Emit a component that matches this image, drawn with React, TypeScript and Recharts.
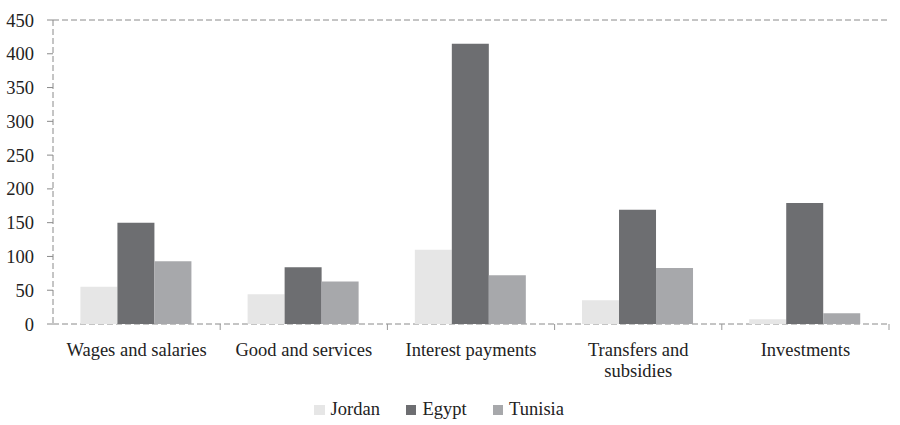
import React from "react";
import { BarChart, Bar, XAxis, YAxis, CartesianGrid, Legend } from "recharts";

const categories = ["Wages and salaries", "Good and services", "Interest payments", "Transfers and subsidies", "Investments"];
const jordan = [55, 44, 110, 35, 7];
const egypt = [150, 84, 415, 169, 179];
const tunisia = [93, 63, 72, 83, 16];
const yTicks = [0, 50, 100, 150, 200, 250, 300, 350, 400, 450];

const data = categories.map((c, i) => ({ name: c, Jordan: jordan[i], Egypt: egypt[i], Tunisia: tunisia[i] }));

const FONT = "Liberation Serif";
const FS = 18.5;
const COLORS: Record<string, string> = { Jordan: "#e6e6e6", Egypt: "#6d6e71", Tunisia: "#a7a8ab" };

const wrap = (s: string, max: number) => {
  const words = s.split(" ");
  const lines: string[] = [];
  let cur = "";
  for (const w of words) {
    const next = cur ? cur + " " + w : w;
    if (next.length > max && cur) {
      lines.push(cur);
      cur = w;
    } else cur = next;
  }
  if (cur) lines.push(cur);
  return lines;
};

const CatTick = (props: any) => {
  const { x, y, payload } = props;
  const half = payload && payload.offset ? payload.offset : 83.6;
  const lines = wrap(String(payload.value), 18);
  return (
    <g>
      <line x1={x + half} x2={x + half} y1={y} y2={y + 6} stroke="#999" strokeWidth={1} />
      <text x={x} y={y + 31.5} textAnchor="middle" fontFamily={FONT} fontSize={FS} fill="#222">
        {lines.map((l, i) => (
          <tspan key={i} x={x} y={y + 31.5 + i * 21.5}>
            {l}
          </tspan>
        ))}
      </text>
    </g>
  );
};

const YTick = (props: any) => {
  const { x, y, payload } = props;
  return (
    <text x={x} y={y + 6.5} textAnchor="end" fontFamily={FONT} fontSize={FS} fill="#222">
      {payload.value}
    </text>
  );
};

const LegendContent = () => (
  <div
    style={{
      display: "flex",
      justifyContent: "center",
      fontFamily: FONT,
      fontSize: FS,
      lineHeight: "21px",
      color: "#222",
      paddingTop: 4,
      paddingRight: 11,
      gap: 26,
    }}
  >
    {["Jordan", "Egypt", "Tunisia"].map((k) => (
      <div key={k} style={{ display: "flex", alignItems: "center" }}>
        <span style={{ display: "inline-block", width: 10.5, height: 10.5, background: COLORS[k], marginRight: 6, marginTop: 1 }} />
        <span>{k}</span>
      </div>
    ))}
  </div>
);

export default function App() {
  return (
    <div style={{ position: "absolute", left: 0, top: 0, background: "#fff" }}>
      <BarChart
        width={900}
        height={425}
        data={data}
        margin={{ top: 20, right: 11, left: 0, bottom: 0 }}
        barCategoryGap="16.4%"
        barGap={0}
      >
        <CartesianGrid vertical={false} stroke="#8a8a8a" strokeDasharray="6 3" />
        <XAxis
          dataKey="name"
          axisLine={false}
          tickLine={false}
          tickSize={0}
          tickMargin={0}
          height={71}
          interval={0}
          tick={<CatTick />}
        />
        <YAxis
          yAxisId="left"
          domain={[0, 450]}
          ticks={yTicks}
          width={53}
          axisLine={{ stroke: "#8a8a8a", strokeDasharray: "6 3" }}
          tickLine={{ stroke: "#8a8a8a" }}
          tickSize={6}
          tickMargin={13}
          tick={<YTick />}
        />
        <YAxis
          yAxisId="right"
          orientation="right"
          domain={[0, 450]}
          width={0}
          tick={false}
          tickLine={false}
          axisLine={{ stroke: "#bbbbbb", strokeDasharray: "6 3" }}
        />
        <Legend verticalAlign="bottom" height={30} content={<LegendContent />} />
        <Bar yAxisId="left" dataKey="Jordan" fill={COLORS.Jordan} isAnimationActive={false} />
        <Bar yAxisId="left" dataKey="Egypt" fill={COLORS.Egypt} isAnimationActive={false} />
        <Bar yAxisId="left" dataKey="Tunisia" fill={COLORS.Tunisia} isAnimationActive={false} />
      </BarChart>
    </div>
  );
}
